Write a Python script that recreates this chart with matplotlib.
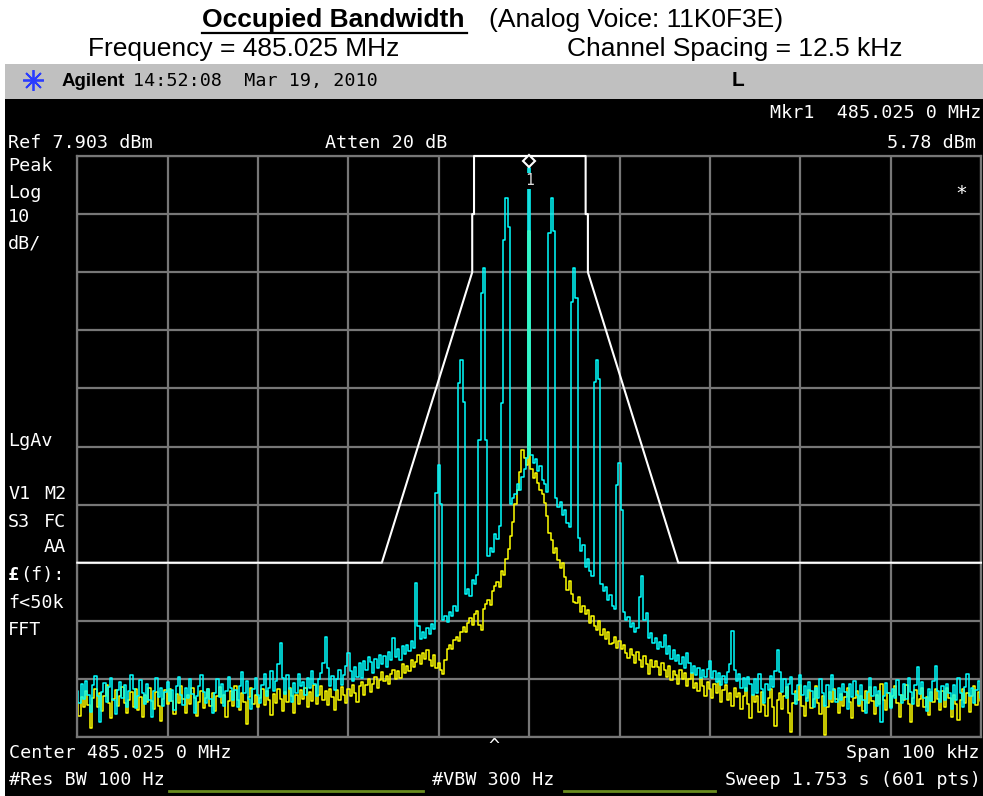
import numpy as np
import matplotlib.pyplot as plt
from matplotlib.patches import Rectangle
from matplotlib.transforms import offset_copy

# analyzer settings
ref_level = 7.903      # dBm at top graticule
db_per_div = 10
span_khz = 100
n_div = 10

# emission mask, kHz offset from centre vs dBm
mask_khz = [-50, -16.3, -6.3, -6.3, -6.1, -6.1, 6.25, 6.25, 6.5, 6.5, 16.5, 50]
mask_dbm = [-62.1, -62.1, -12.1, -2.1, -2.1, 7.903, 7.903, -2.1, -2.1, -12.1, -62.1, -62.1]

# trace 1 (cyan, max hold), 401 points across the span
peak_trace = [
    -84.1, -86.3, -83.0, -85.6, -82.4, -84.9, -87.8, -83.2, -81.6, -85.0, -89.6, -84.3, -82.8, -86.1, -83.5, -81.9, -85.7, -88.2, -84.0, -82.6,
    -85.3, -83.1, -86.9, -84.2, -81.5, -83.8, -87.1, -85.0, -82.3, -84.6, -86.4, -83.0, -85.8, -88.7, -84.1, -82.0, -85.2, -83.6, -86.8, -84.4,
    -82.7, -85.9, -84.0, -87.5, -83.3, -81.8, -84.8, -86.6, -83.7, -85.4, -82.2, -84.7, -87.9, -85.1, -83.4, -81.4, -84.3, -86.2, -83.9, -85.6,
    -88.0, -84.5, -82.1, -85.2, -83.0, -86.7, -84.2, -81.7, -83.6, -85.8, -84.0, -86.9, -83.3, -80.9, -84.6, -82.5, -85.5, -87.2, -83.8, -82.0,
    -84.9, -86.3, -83.1, -81.3, -85.0, -83.6, -80.8, -84.2, -82.4, -79.6, -75.9, -82.0, -84.7, -81.5, -83.9, -86.0, -82.8, -84.5, -81.2, -83.4,
    -82.6, -84.8, -81.9, -83.7, -80.8, -82.9, -85.1, -82.2, -81.0, -79.3, -74.9, -80.2, -83.3, -81.6, -84.0, -82.1, -80.5, -83.2, -81.4, -79.8,
    -77.6, -80.7, -82.5, -80.1, -81.8, -79.4, -82.0, -79.0, -80.6, -78.3, -79.2, -81.0, -78.6, -80.2, -77.9, -79.5, -78.1, -80.0, -77.4, -78.8,
    -75.1, -78.4, -77.0, -78.9, -76.5, -77.8, -76.2, -77.3, -75.6, -76.8,
    -65.6, -73.0, -75.2, -74.0, -75.0, -73.3, -74.4, -72.6, -73.5, -50.1,
    -45.3, -52.0, -72.0, -71.2, -72.3, -70.5, -71.3, -69.6, -70.4, -31.2,
    -27.2, -34.5, -67.5, -66.6, -67.8, -65.0, -65.8, -64.3, -41.0, -15.7,
    -11.4, -41.0, -61.0, -59.6, -60.3, -57.2, -58.0, -55.8, -34.6, -6.6,
    0.7, -4.3, -52.0, -51.0, -50.2, -48.6, -49.5, -47.3, -46.0, -44.0,
    5.78,
    -43.5, -45.0, -44.2, -46.3, -45.5, -47.8, -48.5, -50.0, -5.4, 0.7,
    -5.0, -51.0, -52.5, -51.6, -53.9, -53.0, -55.2, -56.0, -17.2, -11.4,
    -16.5, -57.8, -60.0, -59.1, -62.8, -61.5, -63.6, -64.4, -31.0, -27.2,
    -30.5, -65.8, -67.0, -66.2, -68.5, -67.7, -69.5, -70.0, -48.7, -45.0,
    -53.0, -70.6, -72.0, -71.4, -73.1, -72.4, -74.0, -73.3, -68.0, -64.4,
    -72.0, -70.8, -75.0, -74.2, -76.0, -75.1, -77.0, -75.8, -76.6, -74.5,
    -77.8, -76.5, -78.6, -77.2, -79.0, -77.9, -79.5, -78.3, -80.2, -77.6,
    -79.4, -81.0, -79.8, -81.5, -80.2, -82.0, -80.6, -81.8, -80.4, -79.0,
    -81.9, -80.7, -82.6, -81.0, -83.2, -81.6, -82.8, -80.9, -79.5, -73.9,
    -80.5, -82.4, -81.2, -83.6, -82.0, -84.1, -81.7, -83.0, -84.8,
    -82.1, -84.6, -81.3, -83.8, -86.2, -82.9, -84.0, -81.6, -83.5, -80.7, -77.2, -80.9, -84.3, -82.2, -85.4, -83.0, -81.8, -84.7, -86.5, -83.2,
    -81.5, -84.8, -83.3, -85.9, -82.6, -84.1, -87.0, -83.7, -85.3, -82.1, -84.6, -86.8, -83.2, -85.5, -81.4, -84.0, -86.1, -83.6, -85.8, -82.9,
    -84.4, -87.3, -83.0, -85.2, -82.5, -84.8, -86.4, -83.1, -85.7, -88.0, -84.3, -82.0, -85.1, -83.5, -86.7, -84.2, -89.5, -85.0, -82.8, -84.6,
    -87.1, -83.9, -85.4, -82.3, -84.9, -86.2, -83.0, -85.6, -81.9, -84.3, -86.5, -83.2, -80.0, -84.7, -82.6, -85.3, -87.6, -83.8, -85.9, -82.4,
    -79.8, -84.1, -86.0, -83.4, -85.7, -82.9, -84.5, -87.2, -83.1, -85.8, -82.0, -84.6, -86.9, -83.5, -81.2, -85.0, -83.7, -86.3, -84.0, -82.5,
    -85.4,
]

# trace 2 (yellow, log average)
avg_trace = [
    -86.0, -88.5, -85.2, -87.0, -84.1, -86.6, -90.6, -85.4, -83.8, -86.9, -84.5, -87.7, -85.0, -83.2, -86.3, -88.9, -85.6, -84.0, -86.8, -85.1,
    -83.5, -86.2, -88.0, -85.7, -84.3, -86.9, -83.9, -87.4, -85.2, -88.6, -84.8, -86.1, -83.6, -85.9, -87.2, -84.4, -86.7, -89.3, -85.5, -84.0,
    -86.4, -83.8, -85.9, -88.1, -84.7, -86.2, -83.4, -85.6, -87.9, -84.9, -86.5, -83.7, -85.3, -88.4, -86.0, -84.2, -87.1, -85.4, -83.9, -86.8,
    -84.6, -87.6, -85.1, -83.5, -86.3, -84.8, -88.7, -85.9, -84.1, -86.7, -83.3, -85.8, -87.4, -84.5, -86.1, -89.8, -85.2, -83.6, -86.4, -84.9,
    -87.0, -85.3, -83.9, -86.6, -84.2, -85.8, -88.3, -84.7, -86.2, -83.8, -85.5, -87.7, -84.4, -86.0, -83.6, -85.1, -87.9, -84.8, -86.5, -84.0,
    -85.6, -83.7, -86.9, -84.3, -85.9, -83.2, -86.4, -84.8, -83.4, -85.7, -84.1, -86.6, -83.9, -85.2, -87.4, -84.0, -85.8, -83.5, -84.9, -86.3,
    -83.8, -85.1, -83.2, -84.6, -86.0, -83.4, -82.7, -84.9, -83.1, -82.2, -84.4, -82.9, -81.8, -83.6, -82.3, -80.9, -82.5, -81.6, -83.0, -81.2,
    -80.5, -82.1, -80.8, -81.9, -79.6, -81.0, -79.9, -80.7, -78.8, -80.1, -79.2, -78.0, -79.5, -77.7, -78.6, -77.2, -78.9, -79.8, -78.0, -80.2,
    -79.3, -80.6, -81.2, -78.8, -77.0, -76.2, -76.9, -75.4, -74.8, -75.6, -74.0, -73.2, -74.1, -72.5, -71.6, -72.8, -71.0, -70.4, -72.8, -73.6,
    -70.0, -69.2, -68.5, -69.4, -67.0, -66.1, -65.5, -66.3, -63.5, -64.2, -61.5, -59.8, -57.5, -55.1, -52.0, -49.6, -46.5, -42.7, -44.0, -45.2,
    -5.0,
    -46.0, -47.5, -46.7, -48.3, -49.5, -50.2, -51.8, -54.0, -57.0, -58.2, -60.4, -59.5, -61.6, -63.0, -62.2, -64.5, -66.8, -65.3, -67.5, -68.8,
    -69.1, -68.0, -70.6, -69.5, -71.0, -70.2, -72.4, -71.3, -73.0, -73.7, -72.1, -74.6, -73.5, -75.2, -74.0, -76.1, -75.9, -74.8, -76.8, -75.5,
    -77.0, -76.2, -77.6, -78.5, -76.9, -78.0, -79.3, -77.4, -78.8, -80.1, -78.2, -79.6, -81.2, -78.9, -80.0, -79.1, -80.0, -81.5, -79.4, -80.6,
    -81.8, -79.9, -82.3, -80.7, -81.4, -83.0, -80.5, -82.1, -81.0, -83.4, -82.2, -81.1, -83.7, -82.8, -84.2, -81.9, -83.3, -85.0, -82.6, -83.9,
    -85.3, -83.0, -84.6, -82.4, -86.1, -84.0, -83.2, -85.7, -84.5, -86.8, -83.6, -85.2, -84.5, -87.3, -85.0, -83.7, -86.4, -88.9, -84.8, -86.0,
    -85.1, -87.8, -84.3, -86.6, -88.5, -85.4, -83.9, -86.9, -90.2, -85.7, -84.6, -87.3, -85.0, -83.5, -88.0, -91.2, -86.2, -84.1, -85.8, -83.2,
    -86.7, -88.4, -85.3, -84.0, -87.1, -85.6, -83.4, -86.3, -88.1, -85.0, -91.8, -86.9, -84.4, -86.0, -83.8, -85.5, -87.9, -84.7, -86.8, -85.2,
    -83.6, -86.1, -88.8, -85.4, -84.2, -86.7, -85.0, -87.6, -84.1, -86.3, -83.5, -85.9, -88.2, -84.8, -86.5, -83.0, -85.7, -87.4, -84.6, -86.9,
    -85.1, -83.4, -86.2, -88.7, -84.9, -85.8, -83.1, -86.4, -89.6, -85.3, -84.0, -86.8, -85.5, -83.7, -87.0, -85.2, -88.3, -84.4, -86.1, -83.8,
    -85.6, -87.5, -84.2, -86.9, -83.6, -85.3, -88.6, -84.8, -86.4, -89.1, -85.7, -83.9, -86.2, -84.5, -87.8, -85.0, -83.4, -86.6, -84.3, -85.9,
]

W, H = 983, 796
fig = plt.figure(figsize=(W / 100, H / 100), dpi=100, facecolor='white')

# pixel-coordinate layer for the frame, header and annotations
ov = fig.add_axes([0, 0, 1, 1])
ov.set_xlim(0, W)
ov.set_ylim(H, 0)
ov.axis('off')
ov.set_zorder(0)

ov.add_patch(Rectangle((5, 64), W - 5, 35, color='#c0c0c0', lw=0))
ov.add_patch(Rectangle((5, 99), W - 5, H - 99, color='black', lw=0))

sans = 'Liberation Sans'
mono = 'DejaVu Sans Mono'
mono_size = 13.2

# report heading
ov.text(202, 20, 'Occupied Bandwidth', family=sans, weight='bold', fontsize=19, va='center', ha='left')
ov.plot([202, 467], [33, 33], color='black', lw=1.6)
ov.text(489, 20, '(Analog Voice: 11K0F3E)', family=sans, fontsize=19, va='center', ha='left')
ov.text(88, 49, 'Frequency = 485.025 MHz', family=sans, fontsize=19, va='center', ha='left')
ov.text(567, 49, 'Channel Spacing = 12.5 kHz', family=sans, fontsize=19, va='center', ha='left')

# instrument title bar
ov.plot([33], [80], marker=(8, 2, 0), ms=15, mew=1.3, color='#2a3cff')
ov.text(62, 81, 'Agilent', family=sans, weight='bold', fontsize=13.5, va='center', ha='left')
ov.text(133, 81, '14:52:08  Mar 19, 2010', family=mono, fontsize=mono_size, va='center', ha='left')
ov.text(738, 81, 'L', family=sans, weight='bold', fontsize=15, va='center', ha='center')


def label(x, y, s, ha='left', **kw):
    ov.text(x, y, s, ha=ha, va='center', color='white', family=mono, fontsize=mono_size, **kw)


label(981, 113, 'Mkr1  485.025 0 MHz', ha='right')
label(8, 143, 'Ref 7.903 dBm')
label(325, 143, 'Atten 20 dB')
label(976, 143, '5.78 dBm', ha='right')

for y, s in [(166, 'Peak'), (193, 'Log'), (217, '10'), (243, 'dB/'), (441, 'LgAv'),
             (603, 'f<50k'), (630, 'FFT')]:
    label(8, y, s)
label(8, 494, 'V1')
label(44, 494, 'M2')
label(8, 522, 'S3')
label(44, 522, 'FC')
label(44, 547, 'AA')
label(8, 575, '£', weight='bold')
label(20, 575, '(f):')

label(9, 753, 'Center 485.025 0 MHz')
label(494, 746, '^', ha='center')
label(979, 753, 'Span 100 kHz', ha='right')
label(9, 780, '#Res BW 100 Hz')
label(432, 780, '#VBW 300 Hz')
label(981, 780, 'Sweep 1.753 s (601 pts)', ha='right')
ov.plot([169, 423], [791, 791], color='#6a8c1f', lw=2)
ov.plot([564, 715], [791, 791], color='#6a8c1f', lw=2)

# graticule
x0, x1, y0, y1 = 77.3, 981, 156, 737
ax = fig.add_axes([x0 / W, 1 - y1 / H, (x1 - x0) / W, (y1 - y0) / H])
ax.set_zorder(1)
ax.set_facecolor('black')
bottom = ref_level - n_div * db_per_div
ax.set_xlim(-span_khz / 2, span_khz / 2)
ax.set_ylim(bottom, ref_level)
ax.set_xticks(np.linspace(-span_khz / 2, span_khz / 2, n_div + 1))
ax.set_yticks(np.linspace(bottom, ref_level, n_div + 1))
ax.tick_params(length=0, labelbottom=False, labelleft=False)
ax.grid(True, color='#777777', lw=1.6)
for sp in ax.spines.values():
    sp.set_color('#777777')
    sp.set_linewidth(1.6)

f_avg = np.linspace(-span_khz / 2, span_khz / 2, len(avg_trace))
f_peak = np.linspace(-span_khz / 2, span_khz / 2, len(peak_trace))
ax.plot(f_avg, avg_trace, color='#ffff00', lw=1.1, drawstyle='steps-mid')
ax.plot(f_peak, peak_trace, color='#00ffff', lw=1.1, drawstyle='steps-mid')
ax.plot(mask_khz, mask_dbm, color='white', lw=1.5, clip_on=False, zorder=3)

# marker 1 on the carrier peak
k = int(np.argmax(peak_trace))
mk_tr = offset_copy(ax.transData, fig=fig, x=0, y=5.5, units='points')
ax.plot([f_peak[k]], [peak_trace[k]], marker='D', ms=6, mfc='black', mec='white', mew=1.5,
        transform=mk_tr, clip_on=False, zorder=4)
ax.annotate('1', (f_peak[k], peak_trace[k]), xytext=(0, -9), textcoords='offset points',
            ha='center', va='center', color='#dddddd', family=mono, fontsize=10.5, zorder=5,
            bbox=dict(boxstyle='square,pad=0.05', fc='black', ec='none'))
ax.text(0.978, 0.935, '*', transform=ax.transAxes, ha='center', va='center',
        color='white', family=mono, fontsize=14)

fig.savefig('out.png', dpi=100, facecolor='white')
